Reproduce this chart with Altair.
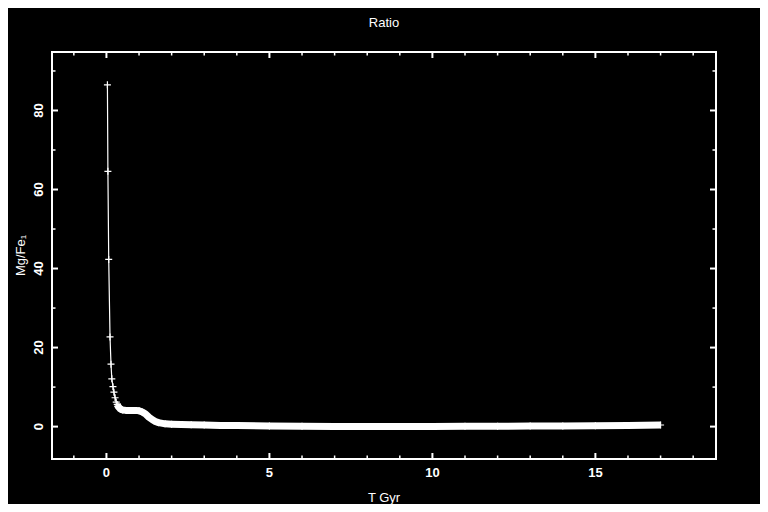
import altair as alt
import pandas as pd

# ---- data ----
T = [0.03, 0.045, 0.07, 0.11, 0.14, 0.165, 0.20, 0.23, 0.265, 0.30,
     0.33, 0.36, 0.39, 0.42, 0.46, 0.50, 0.6, 0.7, 0.8, 0.9, 1.0,
     1.1, 1.2, 1.3, 1.4, 1.5, 1.6, 1.8, 2.0, 2.3, 2.6,
     3.0, 3.5, 4.0, 5.0, 6.0, 7.0, 8.0, 9.0, 10.0, 11.0,
     12.0, 13.0, 14.0, 15.0, 16.0, 17.0]
RATIO = [86.5, 64.6, 42.3, 22.7, 15.8, 12.1, 10.1, 8.7, 7.3, 6.2,
         5.6, 5.1, 4.8, 4.5, 4.3, 4.2, 4.1, 4.1, 4.1, 4.1, 4.0,
         3.7, 3.2, 2.4, 1.8, 1.3, 1.0, 0.7, 0.6, 0.5, 0.45,
         0.4, 0.3, 0.25, 0.15, 0.1, 0.0, 0.0, 0.0, 0.05, 0.1,
         0.1, 0.15, 0.15, 0.2, 0.3, 0.4]

X_MAJOR = [0, 5, 10, 15]
X_MINOR = [-1, 1, 2, 3, 4, 6, 7, 8, 9, 11, 12, 13, 14, 16, 17, 18]
Y_MAJOR = [0, 20, 40, 60, 80]
Y_MINOR = [10, 30, 50, 70, 90]

TITLE = ["Ratio"]
X_TITLE = ["T Gyr"]
Y_TITLE = ["Mg/Fe\u2081"]

X_DOMAIN = [-1.67, 18.7]
Y_DOMAIN = [-8.2, 94.8]

W, H = 664, 407
FONT = "Liberation Sans"

df = pd.DataFrame({"T": T, "R": RATIO})
xs = alt.Scale(domain=X_DOMAIN, nice=False, zero=False)
ys = alt.Scale(domain=Y_DOMAIN, nice=False, zero=False)

base = alt.Chart(df)
X = alt.X("T:Q", scale=xs, axis=None)
Y = alt.Y("R:Q", scale=ys, axis=None)

band = base.transform_filter(alt.datum.T >= 0.33).mark_line(
    color="white", strokeWidth=7, strokeCap="butt", strokeJoin="round"
).encode(x=X, y=Y)

thin = base.mark_line(color="white", strokeWidth=1.2).encode(x=X, y=Y)

pts = base.mark_point(shape="M-1,0L1,0M0,-1L0,1", size=49, filled=False,
                      stroke="white", strokeWidth=1.2, opacity=1).encode(x=X, y=Y)


def xticks(vals, length, sw):
    d = alt.Chart(pd.DataFrame({"v": vals}))
    bottom = d.mark_rule(color="white", strokeWidth=sw).encode(
        x=alt.X("v:Q", scale=xs, axis=None),
        y=alt.value(H), y2=alt.value(H - length))
    top = d.mark_rule(color="white", strokeWidth=sw).encode(
        x=alt.X("v:Q", scale=xs, axis=None),
        y=alt.value(0), y2=alt.value(length))
    return [bottom, top]


def yticks(vals, length, sw):
    d = alt.Chart(pd.DataFrame({"v": vals}))
    left = d.mark_rule(color="white", strokeWidth=sw).encode(
        y=alt.Y("v:Q", scale=ys, axis=None),
        x=alt.value(0), x2=alt.value(length))
    right = d.mark_rule(color="white", strokeWidth=sw).encode(
        y=alt.Y("v:Q", scale=ys, axis=None),
        x=alt.value(W), x2=alt.value(W - length))
    return [left, right]


x_labels = alt.Chart(pd.DataFrame({"v": X_MAJOR})).mark_text(
    font=FONT, fontSize=13, fontWeight="bold", color="white",
    align="center", baseline="alphabetic"
).encode(x=alt.X("v:Q", scale=xs, axis=None), y=alt.value(H + 17.5),
         text=alt.Text("v:Q"))

y_labels = alt.Chart(pd.DataFrame({"v": Y_MAJOR})).mark_text(
    font=FONT, fontSize=13, fontWeight="bold", color="white",
    align="center", baseline="alphabetic", angle=270
).encode(y=alt.Y("v:Q", scale=ys, axis=None), x=alt.value(-9),
         text=alt.Text("v:Q"))

x_title = alt.Chart(pd.DataFrame({"t": X_TITLE})).mark_text(
    font=FONT, fontSize=13, color="white", align="center",
    baseline="alphabetic"
).encode(x=alt.value(W / 2), y=alt.value(H + 43), text="t:N")

y_title = alt.Chart(pd.DataFrame({"t": Y_TITLE})).mark_text(
    font=FONT, fontSize=13, color="white", align="center",
    baseline="alphabetic", angle=270
).encode(x=alt.value(-27), y=alt.value(H / 2), text="t:N")

title = alt.Chart(pd.DataFrame({"t": TITLE})).mark_text(
    font=FONT, fontSize=13, color="white", align="center",
    baseline="alphabetic"
).encode(x=alt.value(W / 2), y=alt.value(-25), text="t:N")

layers = [band, thin, pts]
layers += xticks(X_MAJOR, 6, 2) + xticks(X_MINOR, 3.5, 1.5)
layers += yticks(Y_MAJOR, 6, 2) + yticks(Y_MINOR, 3.5, 1.5)
layers += [x_labels, y_labels, x_title, y_title, title]

chart = alt.layer(*layers).properties(
    width=W, height=H,
    autosize=alt.AutoSizeParams(type="none"),
    padding={"left": 44, "top": 44, "right": 44, "bottom": 45},
    background="black",
).configure_view(stroke="white", strokeWidth=2)

chart.save("out.html", embed_options={"renderer": "svg", "actions": False})
